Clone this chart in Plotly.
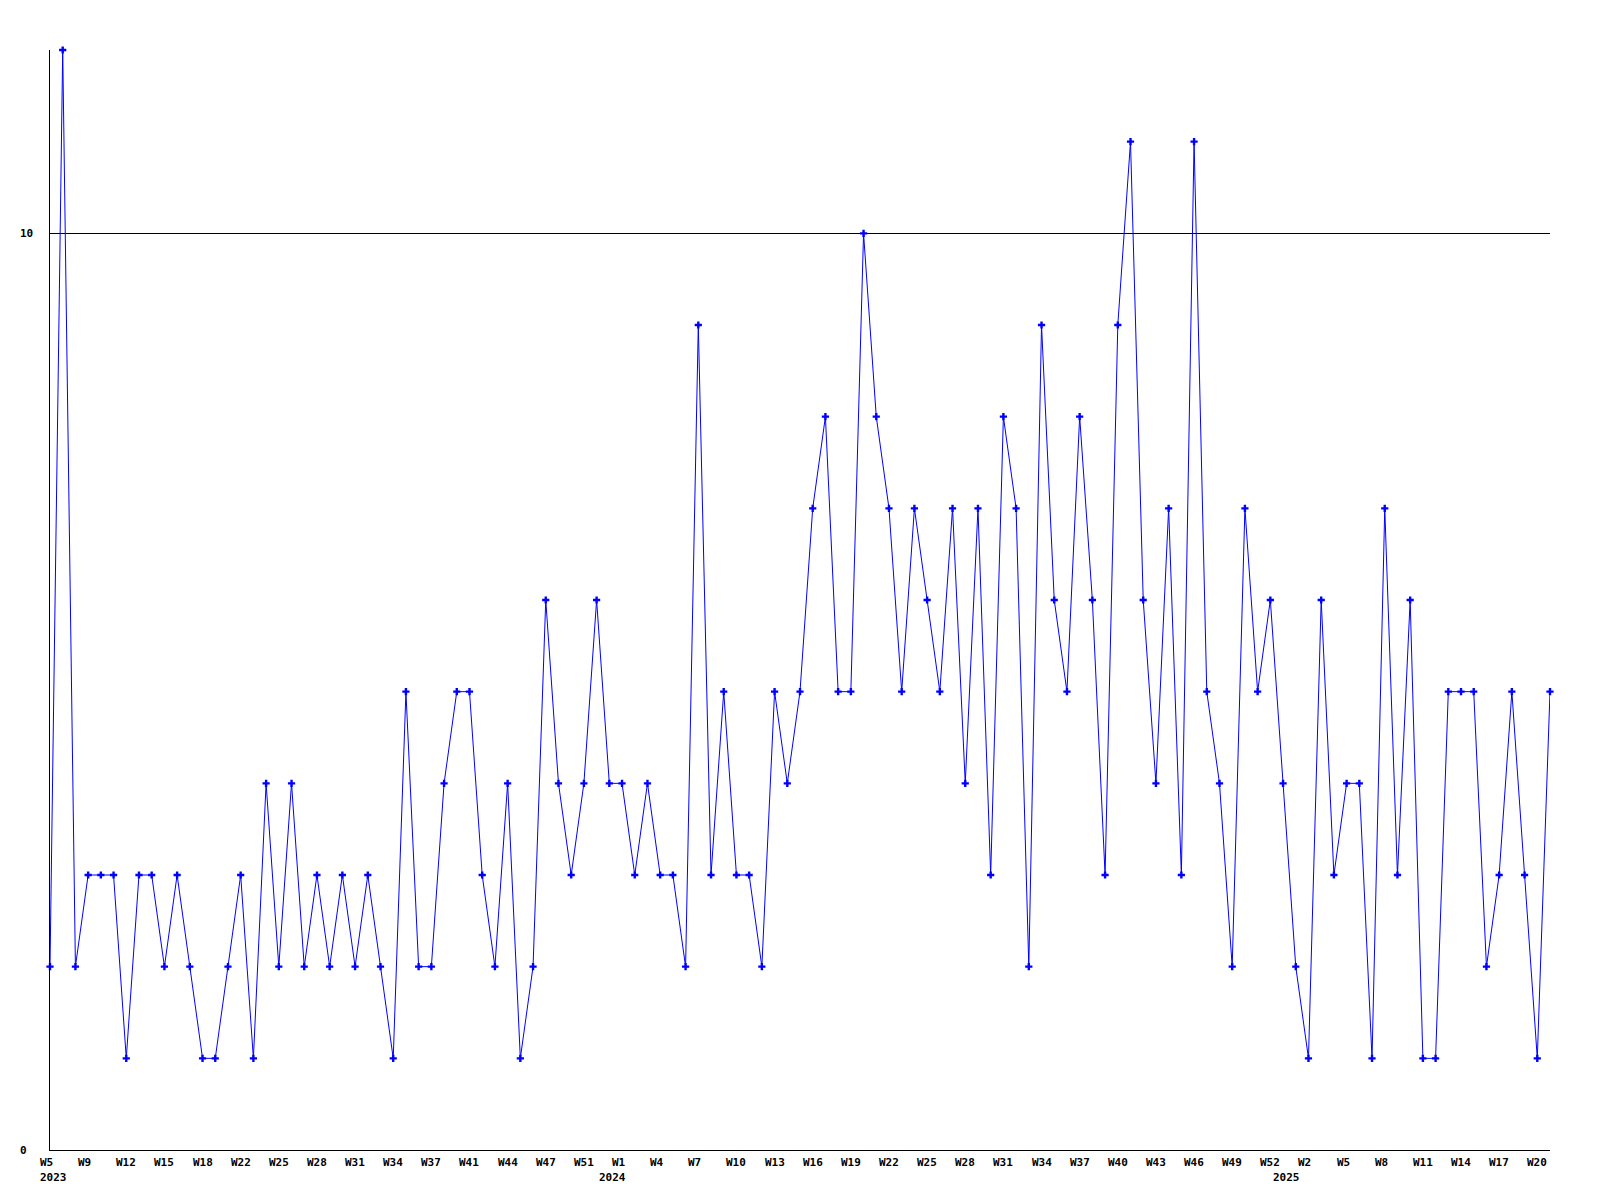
import plotly.graph_objects as go

# ---- data ----
values = [
    2, 12, 2, 3, 3, 3, 1, 3, 3, 2, 3, 2, 1, 1, 2, 3, 1, 4, 2, 4, 2,
    3, 2, 3, 2, 3, 2, 1, 5, 2, 2, 4, 5, 5, 3, 2, 4, 1, 2, 6,
    4, 3, 4, 6, 4, 4, 3, 4, 3, 3, 2, 9, 3, 5, 3, 3, 2, 5, 4, 5,
    7, 8, 5, 5, 10, 8, 7, 5, 7, 6, 5, 7, 4, 7, 3, 8, 7, 2, 9, 6,
    5, 8, 6, 3, 9, 11, 6, 4, 7, 3, 11, 5, 4, 2, 7, 5, 6, 4, 2, 1,
    6, 3, 4, 4, 1, 7, 3, 6, 1, 1, 5, 5, 5, 2, 3, 5, 3, 1, 5,
]
x_idx = list(range(len(values)))

week_labels = [
    "W5", "W9", "W12", "W15", "W18", "W22", "W25", "W28", "W31", "W34",
    "W37", "W41", "W44", "W47", "W51",
    "W1", "W4", "W7", "W10", "W13", "W16", "W19", "W22", "W25", "W28",
    "W31", "W34", "W37", "W40", "W43", "W46", "W49", "W52",
    "W2", "W5", "W8", "W11", "W14", "W17", "W20",
]
week_positions = list(range(0, 3 * len(week_labels), 3))

year_labels = ["2023", "2024", "2025"]
year_positions = [0, 44, 97]

y_tick_vals = [0, 10]
y_tick_text = ["0", "10"]

FONT = dict(family="DejaVu Sans Mono", size=11, color="black", weight="bold")

fig = go.Figure()
fig.add_trace(go.Scatter(
    x=x_idx, y=values, mode="lines+markers",
    line=dict(color="#0000ff", width=1),
    marker=dict(symbol="cross", size=6, color="#0000ff", line=dict(width=0)),
    cliponaxis=False, showlegend=False, hoverinfo="skip",
))

annotations = []
for pos, lab in zip(week_positions, week_labels):
    annotations.append(dict(x=pos, y=0, xref="x", yref="paper", text=lab,
                            showarrow=False, xanchor="left", yanchor="top",
                            xshift=-12, yshift=-4, font=FONT))
for pos, lab in zip(year_positions, year_labels):
    annotations.append(dict(x=pos, y=0, xref="x", yref="paper", text=lab,
                            showarrow=False, xanchor="left", yanchor="top",
                            xshift=-12, yshift=-19, font=FONT))
for v, lab in zip(y_tick_vals, y_tick_text):
    annotations.append(dict(x=0, y=v, xref="paper", yref="y", text=lab,
                            showarrow=False, xanchor="left", yanchor="middle",
                            xshift=-32, font=FONT))

fig.update_layout(
    width=1600, height=1200,
    margin=dict(l=42, r=58, t=42, b=58),
    paper_bgcolor="white", plot_bgcolor="white",
    annotations=annotations,
    xaxis=dict(range=[0, len(values) - 1], showgrid=False, zeroline=False,
               showline=True, linecolor="black", linewidth=1,
               showticklabels=False, ticks=""),
    yaxis=dict(range=[0, 12], tickvals=y_tick_vals, showgrid=True,
               gridcolor="black", gridwidth=1, zeroline=False,
               showline=True, linecolor="black", linewidth=1,
               showticklabels=False, ticks=""),
)

fig.write_html("out.html")
